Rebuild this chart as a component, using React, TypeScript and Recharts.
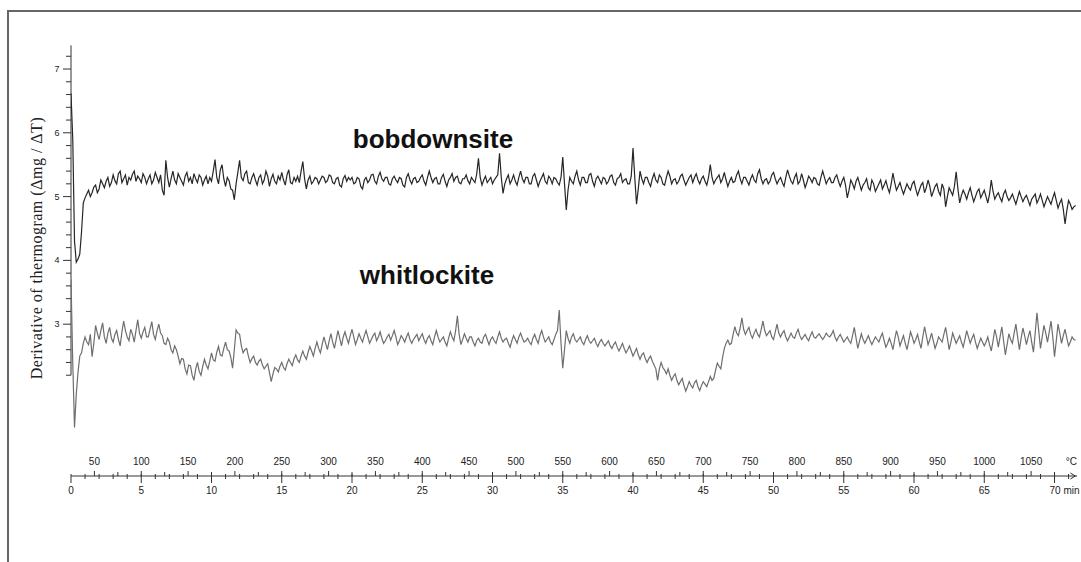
import React from 'react';
import { LineChart, Line, XAxis, YAxis, ReferenceLine } from 'recharts';

// derivative thermogram, one sample every 1/8 min from t = 0 (one row = 5 min)
const SAMPLE_STEP = 0.125;

const bobdownsite = [
  6.62, 5.9, 4.3, 3.97, 4.02, 4.1, 4.45, 4.9, 4.98, 5.04,
  5.1, 5.0, 5.06, 5.15, 5.18, 5.06, 5.12, 5.26, 5.2, 5.14,
  5.24, 5.3, 5.16, 5.22, 5.34, 5.25, 5.2, 5.36, 5.4, 5.22,
  5.28, 5.34, 5.18, 5.3, 5.26, 5.35, 5.4, 5.24, 5.32, 5.28,

  5.22, 5.36, 5.3, 5.2, 5.28, 5.34, 5.2, 5.26, 5.38, 5.3,
  5.22, 5.34, 5.1, 5.02, 5.57, 5.3, 5.15, 5.28, 5.4, 5.26,
  5.2, 5.36, 5.3, 5.24, 5.18, 5.32, 5.38, 5.24, 5.3, 5.2,
  5.36, 5.28, 5.22, 5.34, 5.3, 5.18, 5.26, 5.32, 5.2, 5.3,

  5.24, 5.4, 5.58, 5.3, 5.2, 5.42, 5.5, 5.28, 5.16, 5.3,
  5.25, 5.12, 5.1, 4.95, 5.2, 5.38, 5.57, 5.3, 5.25, 5.36,
  5.4, 5.22, 5.2, 5.3, 5.36, 5.26, 5.18, 5.3, 5.34, 5.2,
  5.26, 5.4, 5.32, 5.16, 5.28, 5.35, 5.24, 5.2, 5.32, 5.26,

  5.38, 5.26, 5.18, 5.34, 5.42, 5.22, 5.2, 5.3, 5.24, 5.32,
  5.22, 5.4, 5.55, 5.28, 5.12, 5.26, 5.32, 5.2, 5.24, 5.3,
  5.28, 5.2, 5.26, 5.32, 5.3, 5.22, 5.25, 5.34, 5.32, 5.22,
  5.2, 5.28, 5.3, 5.18, 5.15, 5.28, 5.33, 5.24, 5.3, 5.26,

  5.3, 5.2, 5.22, 5.3, 5.28, 5.16, 5.12, 5.26, 5.3, 5.22,
  5.26, 5.34, 5.35, 5.24, 5.2, 5.32, 5.38, 5.28, 5.24, 5.3,
  5.3, 5.2, 5.18, 5.28, 5.32, 5.26, 5.22, 5.3, 5.28, 5.18,
  5.15, 5.3, 5.36, 5.26, 5.2, 5.28, 5.3, 5.22, 5.24, 5.3,

  5.34, 5.24, 5.18, 5.3, 5.4, 5.3, 5.22, 5.28, 5.3, 5.2,
  5.2, 5.3, 5.35, 5.24, 5.16, 5.26, 5.3, 5.36, 5.24, 5.3,
  5.32, 5.22, 5.2, 5.28, 5.28, 5.34, 5.25, 5.2, 5.3, 5.26,
  5.22, 5.35, 5.6, 5.3, 5.18, 5.26, 5.32, 5.22, 5.26, 5.3,

  5.2, 5.26, 5.3, 5.34, 5.68, 5.3, 5.05, 5.2, 5.28, 5.34,
  5.2, 5.26, 5.34, 5.24, 5.18, 5.3, 5.4, 5.28, 5.22, 5.3,
  5.3, 5.2, 5.2, 5.32, 5.36, 5.26, 5.16, 5.24, 5.3, 5.36,
  5.24, 5.2, 5.32, 5.28, 5.2, 5.3, 5.28, 5.22, 5.18, 5.3,

  5.62, 5.2, 4.79, 5.1, 5.3, 5.24, 5.2, 5.32, 5.4, 5.26,
  5.18, 5.3, 5.3, 5.22, 5.22, 5.34, 5.36, 5.24, 5.16, 5.28,
  5.32, 5.26, 5.2, 5.3, 5.28, 5.2, 5.24, 5.32, 5.34, 5.22,
  5.18, 5.28, 5.3, 5.36, 5.22, 5.26, 5.28, 5.2, 5.2, 5.32,

  5.76, 5.3, 4.88, 5.12, 5.4, 5.28, 5.2, 5.3, 5.3, 5.22,
  5.16, 5.28, 5.36, 5.26, 5.22, 5.34, 5.3, 5.2, 5.18, 5.3,
  5.4, 5.32, 5.2, 5.26, 5.28, 5.2, 5.24, 5.32, 5.35, 5.26,
  5.18, 5.24, 5.3, 5.34, 5.22, 5.3, 5.36, 5.26, 5.2, 5.28,

  5.32, 5.24, 5.18, 5.3, 5.5, 5.3, 5.2, 5.26, 5.3, 5.34,
  5.22, 5.28, 5.38, 5.26, 5.16, 5.24, 5.3, 5.22, 5.24, 5.34,
  5.4, 5.28, 5.2, 5.3, 5.3, 5.24, 5.18, 5.28, 5.34, 5.26,
  5.22, 5.36, 5.42, 5.28, 5.2, 5.26, 5.28, 5.2, 5.24, 5.34,

  5.38, 5.28, 5.2, 5.26, 5.3, 5.22, 5.16, 5.3, 5.42, 5.32,
  5.24, 5.2, 5.3, 5.36, 5.2, 5.24, 5.36, 5.26, 5.14, 5.22,
  5.32, 5.28, 5.22, 5.3, 5.28, 5.2, 5.18, 5.3, 5.4, 5.3,
  5.2, 5.26, 5.3, 5.22, 5.22, 5.3, 5.34, 5.24, 5.16, 5.24,

  5.3, 5.18, 4.98, 5.1, 5.26, 5.2, 5.12, 5.24, 5.3, 5.2,
  5.1, 5.18, 5.22, 5.28, 5.14, 5.1, 5.26, 5.2, 5.08, 5.14,
  5.2, 5.26, 5.12, 5.18, 5.25, 5.14, 5.06, 5.2, 5.37, 5.22,
  5.1, 5.16, 5.22, 5.12, 5.04, 5.12, 5.2, 5.14, 5.1, 5.2,

  5.24, 5.12, 5.02, 5.1, 5.18, 5.22, 5.06, 5.14, 5.26, 5.16,
  5.0, 5.08, 5.16, 5.2, 5.08, 5.02, 5.2, 5.12, 4.84, 5.0,
  5.14, 5.08, 5.02, 5.16, 5.39, 5.12, 4.9, 5.02, 5.1, 5.04,
  4.96, 5.06, 5.14, 5.02, 4.92, 5.0, 5.08, 5.12, 4.98, 5.04,

  5.1, 5.0, 4.9, 5.04, 5.26, 5.08, 4.96, 5.02, 5.06, 4.98,
  4.92, 5.04, 5.1, 5.0, 4.94, 4.98, 5.04, 4.96, 4.88, 4.98,
  5.08, 5.0, 4.92, 4.98, 5.02, 4.94, 4.86, 4.96, 5.0, 5.04,
  4.9, 4.96, 5.04, 4.94, 4.84, 4.92, 5.0, 4.94, 4.88, 4.98,

  5.06, 4.94, 4.82, 4.9, 4.96, 4.8, 4.57, 4.78, 4.94, 4.88,
  4.8, 4.84, 4.86,
];

const whitlockite = [
  3.7, 2.4, 1.38, 1.9, 2.25, 2.5, 2.55, 2.7, 2.8, 2.72,
  2.68, 2.84, 2.49, 2.7, 2.98, 2.86, 2.76, 2.9, 3.02, 2.8,
  2.7, 2.86, 2.95, 2.78, 2.72, 2.84, 2.9, 2.76, 2.66, 2.88,
  3.05, 2.9, 2.8, 2.74, 2.92, 2.84, 2.72, 2.9, 3.07, 2.86,

  2.78, 2.88, 2.95, 2.8, 2.8, 2.92, 3.04, 2.84, 2.76, 2.9,
  3.0, 2.86, 2.82, 2.7, 2.68, 2.78, 2.72, 2.6, 2.55, 2.66,
  2.6, 2.5, 2.38, 2.46, 2.45, 2.3, 2.22, 2.36, 2.35, 2.2,
  2.12, 2.3, 2.4, 2.26, 2.2, 2.34, 2.45, 2.36, 2.3, 2.42,

  2.55, 2.44, 2.42, 2.56, 2.65, 2.52, 2.5, 2.62, 2.72, 2.6,
  2.58, 2.48, 2.31, 2.6, 2.91, 2.86, 2.84, 2.66, 2.55, 2.6,
  2.62, 2.5, 2.4, 2.46, 2.5, 2.4, 2.36, 2.42, 2.45, 2.36,
  2.3, 2.34, 2.38, 2.24, 2.1, 2.22, 2.32, 2.3, 2.25, 2.34,

  2.4, 2.32, 2.28, 2.38, 2.45, 2.4, 2.35, 2.46, 2.52, 2.44,
  2.4, 2.5, 2.58, 2.5, 2.45, 2.56, 2.65, 2.58, 2.5, 2.62,
  2.72, 2.62, 2.55, 2.68, 2.8, 2.7, 2.6, 2.74, 2.85, 2.72,
  2.62, 2.76, 2.9, 2.78, 2.66, 2.8, 2.88, 2.78, 2.7, 2.82,

  2.92, 2.8, 2.68, 2.76, 2.85, 2.78, 2.72, 2.82, 2.9, 2.8,
  2.7, 2.76, 2.82, 2.86, 2.74, 2.8, 2.88, 2.78, 2.7, 2.74,
  2.8, 2.84, 2.75, 2.82, 2.9, 2.8, 2.68, 2.74, 2.82, 2.78,
  2.72, 2.8, 2.86, 2.76, 2.7, 2.76, 2.8, 2.84, 2.74, 2.8,

  2.85, 2.76, 2.7, 2.78, 2.82, 2.74, 2.68, 2.8, 2.9, 2.8,
  2.72, 2.76, 2.8, 2.72, 2.66, 2.78, 2.88, 2.8, 2.74, 2.9,
  3.13, 2.84, 2.68, 2.76, 2.85, 2.78, 2.72, 2.8, 2.8, 2.72,
  2.66, 2.74, 2.78, 2.72, 2.7, 2.8, 2.84, 2.76, 2.68, 2.76,

  2.8, 2.74, 2.7, 2.8, 2.88, 2.78, 2.72, 2.76, 2.78, 2.7,
  2.64, 2.74, 2.82, 2.76, 2.7, 2.8, 2.86, 2.78, 2.72, 2.74,
  2.78, 2.72, 2.68, 2.78, 2.84, 2.76, 2.7, 2.82, 2.9, 2.8,
  2.72, 2.76, 2.8, 2.72, 2.68, 2.76, 2.84, 2.9, 3.22, 2.7,

  2.31, 2.6, 2.9, 2.78, 2.7, 2.8, 2.85, 2.76, 2.72, 2.76,
  2.8, 2.72, 2.68, 2.76, 2.82, 2.74, 2.7, 2.74, 2.78, 2.7,
  2.65, 2.72, 2.76, 2.7, 2.66, 2.7, 2.74, 2.66, 2.62, 2.68,
  2.72, 2.64, 2.58, 2.64, 2.7, 2.62, 2.55, 2.6, 2.66, 2.58,

  2.5, 2.56, 2.62, 2.52, 2.45, 2.52, 2.55, 2.46, 2.4, 2.46,
  2.5, 2.42, 2.36, 2.3, 2.12, 2.3, 2.4, 2.32, 2.28, 2.22,
  2.3, 2.2, 2.12, 2.18, 2.22, 2.12, 2.05, 2.1, 2.15, 2.04,
  1.95, 2.02, 2.1, 2.04, 2.0, 2.08, 2.12, 2.02, 1.96, 2.04,

  2.1, 2.06, 2.02, 2.1, 2.18, 2.12, 2.15, 2.28, 2.39, 2.34,
  2.3, 2.48, 2.62, 2.7, 2.75, 2.68, 2.7, 2.84, 2.96, 2.86,
  2.82, 2.94, 3.1, 2.92, 2.84, 2.9, 2.95, 2.84, 2.78, 2.86,
  2.92, 2.84, 2.8, 2.92, 3.05, 2.9, 2.82, 2.86, 2.9, 2.8,

  2.76, 2.88, 3.0, 2.86, 2.8, 2.86, 2.9, 2.8, 2.74, 2.8,
  2.86, 2.8, 2.78, 2.86, 2.92, 2.82, 2.76, 2.8, 2.84, 2.78,
  2.74, 2.82, 2.88, 2.8, 2.78, 2.82, 2.85, 2.8, 2.76, 2.8,
  2.86, 2.82, 2.8, 2.84, 2.9, 2.8, 2.74, 2.8, 2.84, 2.78,

  2.72, 2.76, 2.8, 2.74, 2.7, 2.82, 2.95, 2.78, 2.62, 2.74,
  2.85, 2.76, 2.7, 2.76, 2.82, 2.74, 2.68, 2.74, 2.8, 2.76,
  2.72, 2.8, 2.86, 2.74, 2.64, 2.7, 2.78, 2.7, 2.6, 2.76,
  2.9, 2.8, 2.66, 2.74, 2.82, 2.7, 2.6, 2.74, 2.88, 2.8,

  2.7, 2.76, 2.84, 2.72, 2.62, 2.8, 2.96, 2.82, 2.68, 2.76,
  2.86, 2.74, 2.62, 2.7, 2.8, 2.76, 2.72, 2.84, 2.95, 2.78,
  2.6, 2.72, 2.86, 2.78, 2.7, 2.76, 2.82, 2.72, 2.64, 2.76,
  2.9, 2.8, 2.7, 2.78, 2.84, 2.72, 2.62, 2.7, 2.78, 2.72,

  2.66, 2.72, 2.8, 2.68, 2.58, 2.74, 2.92, 2.8, 2.64, 2.8,
  2.96, 2.74, 2.52, 2.68, 2.85, 2.76, 2.7, 2.86, 3.0, 2.8,
  2.6, 2.78, 2.94, 2.82, 2.68, 2.8, 2.9, 2.72, 2.56, 2.86,
  3.18, 2.9, 2.62, 2.8, 2.98, 2.86, 2.72, 2.88, 3.05, 2.8,

  2.49, 2.74, 3.0, 2.86, 2.7, 2.82, 2.92, 2.78, 2.66, 2.72,
  2.8, 2.76, 2.75,
];

const minuteLabels = [0, 5, 10, 15, 20, 25, 30, 35, 40, 45, 50, 55, 60, 65, 70];
const tempLabels = [50, 100, 150, 200, 250, 300, 350, 400, 450, 500, 550, 600, 650, 700, 750, 800, 850, 900, 950, 1000, 1050];
const yLabels = [3, 4, 5, 6, 7];

const T_START = 25; // °C at t = 0
const RATE = 15; // °C per min
const T_MAX = 71.6;
const DEG_TICK = 1093; // where the °C unit sits

const minuteTicks = Array.from({ length: 72 }, (_, i) => i);
const tempTicks = [...Array.from({ length: 42 }, (_, i) => 50 + i * 25), DEG_TICK];
const yTicks = Array.from({ length: 26 }, (_, i) => +(2.2 + i * 0.2).toFixed(1));

const data = bobdownsite.map((v, i) => {
  const t = i * SAMPLE_STEP;
  return { t, temp: T_START + RATE * t, bob: v, whit: whitlockite[i] };
});

const AXIS_X = 70;
const AXIS_Y = 476;
const tickFont = { fontFamily: '"Liberation Sans", Arial, sans-serif', fontSize: 10, fill: '#222' };

const YTick = (props: any) => {
  const { y, payload } = props;
  const v = payload.value;
  const major = yLabels.some((l) => Math.abs(l - v) < 0.01);
  return (
    <g>
      <line x1={major ? AXIS_X - 7 : AXIS_X - 4} x2={AXIS_X + 1} y1={y} y2={y} stroke="#333" />
      {major && (
        <text x={AXIS_X - 13} y={y + 3} textAnchor="middle" {...tickFont} fontSize={9}>
          {Math.round(v)}
        </text>
      )}
    </g>
  );
};

const MinTick = (props: any) => {
  const { x, payload } = props;
  const v = payload.value;
  const major = minuteLabels.includes(v);
  const last = v === 70;
  return (
    <g>
      <line x1={x} x2={x} y1={AXIS_Y - 2} y2={AXIS_Y + (major ? 7 : 3)} stroke="#333" />
      {major && (
        <text x={last ? x - 5 : x} y={AXIS_Y + 18} textAnchor={last ? 'start' : 'middle'} {...tickFont}>
          {last ? '70 min' : v}
        </text>
      )}
    </g>
  );
};

const TempTick = (props: any) => {
  const { x, payload } = props;
  const v = payload.value;
  if (v === DEG_TICK) {
    return (
      <g>
        <text x={x} y={AXIS_Y - 11} textAnchor="middle" {...tickFont}>°C</text>
        <path d={`M${x - 1} ${AXIS_Y - 3} L${x + 4} ${AXIS_Y} L${x - 1} ${AXIS_Y + 3}`} fill="none" stroke="#333" />
      </g>
    );
  }
  const major = tempLabels.includes(v);
  return (
    <g>
      <line x1={x} x2={x} y1={AXIS_Y - (major ? 5 : 4)} y2={AXIS_Y} stroke="#333" />
      {major && (
        <text x={x} y={AXIS_Y - 11} textAnchor="middle" {...tickFont}>
          {v}
        </text>
      )}
    </g>
  );
};

const nameStyle: React.CSSProperties = {
  position: 'absolute',
  fontFamily: '"Liberation Sans", Arial, sans-serif',
  fontWeight: 'bold',
  fontSize: 26,
  lineHeight: '26px',
  color: '#111',
  transform: 'translateX(-50%)',
  whiteSpace: 'nowrap',
};

export default function App() {
  return (
    <div style={{ position: 'absolute', left: 0, top: 0, width: 1081, height: 562, background: '#fff' }}>
      <div
        style={{
          position: 'absolute',
          left: 7,
          top: 10,
          right: 0,
          bottom: 0,
          borderTop: '2px solid #666',
          borderLeft: '2px solid #666',
        }}
      />
      <LineChart width={1081} height={562} data={data} margin={{ top: 43.5, right: 4, bottom: 85, left: 1 }}>
        <XAxis
          xAxisId="temp"
          dataKey="temp"
          type="number"
          domain={[T_START, T_START + RATE * T_MAX]}
          allowDataOverflow
          ticks={tempTicks}
          interval={0}
          height={0.5}
          axisLine={false}
          tickLine={false}
          tick={<TempTick />}
        />
        <XAxis
          xAxisId="min"
          dataKey="t"
          type="number"
          domain={[0, T_MAX]}
          allowDataOverflow
          ticks={minuteTicks}
          interval={0}
          height={0.5}
          axisLine={{ stroke: '#333' }}
          tickLine={false}
          tick={<MinTick />}
        />
        <YAxis
          type="number"
          domain={[0.62, 7.4]}
          allowDataOverflow
          ticks={yTicks}
          interval={0}
          width={70}
          axisLine={false}
          tickLine={false}
          tick={<YTick />}
        />
        <ReferenceLine
          xAxisId="min"
          segment={[{ x: 0, y: 2.2 }, { x: 0, y: 7.37 }]}
          stroke="#333"
        />
        {/* invisible series so the °C axis gets its own numeric scale */}
        <Line
          xAxisId="temp"
          type="linear"
          dataKey="bob"
          stroke="none"
          dot={false}
          activeDot={false}
          isAnimationActive={false}
        />
        <Line
          xAxisId="min"
          type="linear"
          dataKey="bob"
          stroke="#262626"
          strokeWidth={1.2}
          dot={false}
          isAnimationActive={false}
        />
        <Line
          xAxisId="min"
          type="linear"
          dataKey="whit"
          stroke="#6e6e6e"
          strokeWidth={1.2}
          dot={false}
          isAnimationActive={false}
        />
      </LineChart>
      <div style={{ ...nameStyle, left: 433, top: 126 }}>bobdownsite</div>
      <div style={{ ...nameStyle, left: 427, top: 262 }}>whitlockite</div>
      <div
        style={{
          position: 'absolute',
          left: 37,
          top: 248,
          transform: 'translate(-50%, -50%) rotate(-90deg)',
          fontFamily: '"Liberation Serif", "Times New Roman", serif',
          fontSize: 16,
          letterSpacing: 0.5,
          color: '#222',
          whiteSpace: 'nowrap',
        }}
      >
        Derivative of thermogram (Δmg / ΔT)
      </div>
    </div>
  );
}
